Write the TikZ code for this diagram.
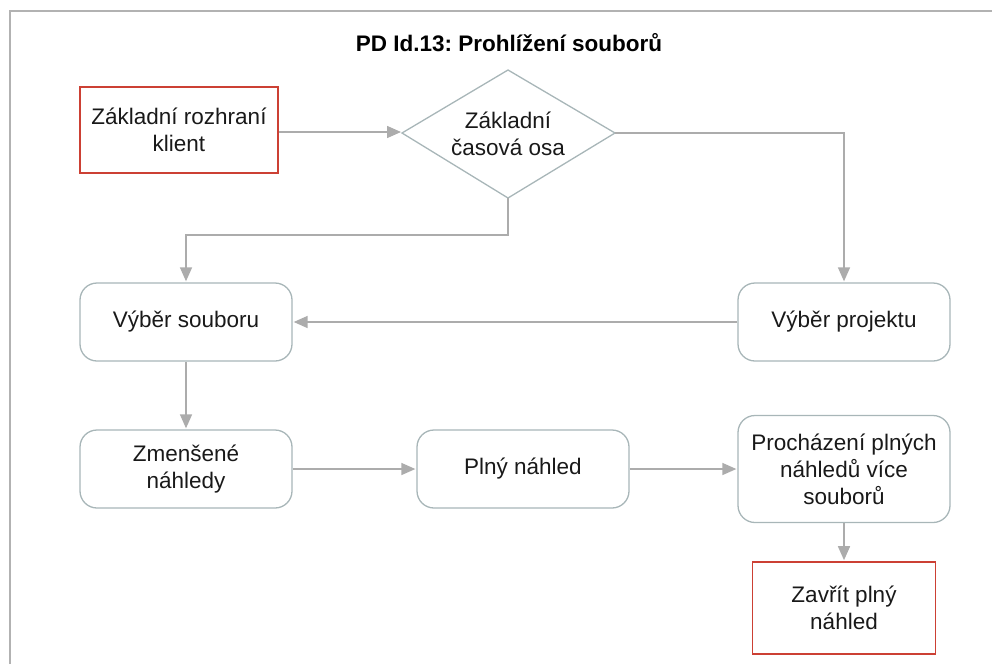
\documentclass[tikz,border=0pt]{standalone}
\usepackage{fontspec}
\setmainfont{Liberation Sans}
\frenchspacing
\usetikzlibrary{arrows.meta}
\definecolor{linegray}{RGB}{172,172,172}
\definecolor{boxgray}{RGB}{168,182,184}
\definecolor{framegray}{RGB}{178,178,178}
\definecolor{boxred}{RGB}{204,64,52}
\tikzset{
  lbl/.style={font=\fontsize{22.5}{27}\selectfont, align=center, text=black!90},
  proc/.style={lbl, draw=boxgray, line width=1.3pt, rounded corners=17pt,
    minimum width=212pt, minimum height=78pt, inner sep=0pt},
  term/.style={lbl, draw=boxred, line width=1.6pt, inner sep=0pt},
  decideline/.style={draw=boxgray, line width=1.3pt, line join=miter},
  flow/.style={draw=linegray, line width=1.5pt,
    -{Triangle[length=14pt,width=12pt]}, shorten >=1pt},
}
\begin{document}
\begin{tikzpicture}[x=1pt,y=-1pt]
  \useasboundingbox (0,0) rectangle (992,664);
  % outer frame, open at the right and bottom
  \draw[framegray, line width=1.8pt] (10,664) -- (10,11) -- (992,11);

  \node[font=\bfseries\fontsize{22.5}{27}\selectfont] (title) at (509,43) {PD Id.13: Prohlížení souborů};

  \node[term, minimum width=198pt, minimum height=86pt] (klient) at (179,130) {Základní rozhraní\\klient};

  % decision diamond drawn from its four corners
  \coordinate (osaW) at (402,133);
  \coordinate (osaN) at (508,70);
  \coordinate (osaE) at (615,133);
  \coordinate (osaS) at (508,198);
  \draw[decideline] (osaW) -- (osaN) -- (osaE) -- (osaS) -- cycle;
  \node[lbl, inner sep=0pt] (osa) at (508,134) {Základní\\časová osa};

  \node[proc] (soubor) at (186,322) {Výběr souboru};
  \node[proc] (projekt) at (844,322) {Výběr projektu};
  \node[proc] (zmensene) at (186,469) {Zmenšené\\náhledy};
  \node[proc] (plny) at (523,469) {Plný náhled};
  \node[proc, minimum height=107pt] (prochazeni) at (844,469) {Procházení plných\\náhledů více\\souborů};
  \node[term, minimum width=183pt, minimum height=92pt] (zavrit) at (844,608) {Zavřít plný\\náhled};

  \coordinate (bend) at (508,235);
  \coordinate (klientout) at ([yshift=-2pt]klient.east);
  \draw[flow] (klientout) -- (klientout -| osaW);
  \draw[flow] (osaE) -| (projekt.north);
  \draw[flow] (osaS) -- (bend) -| (soubor.north);
  \draw[flow] (projekt.west) -- (soubor.east);
  \draw[flow] (soubor.south) -- (zmensene.north);
  \draw[flow] (zmensene.east) -- (plny.west);
  \draw[flow] (plny.east) -- (prochazeni.west);
  \draw[flow] (prochazeni.south) -- (zavrit.north);
\end{tikzpicture}
\end{document}
